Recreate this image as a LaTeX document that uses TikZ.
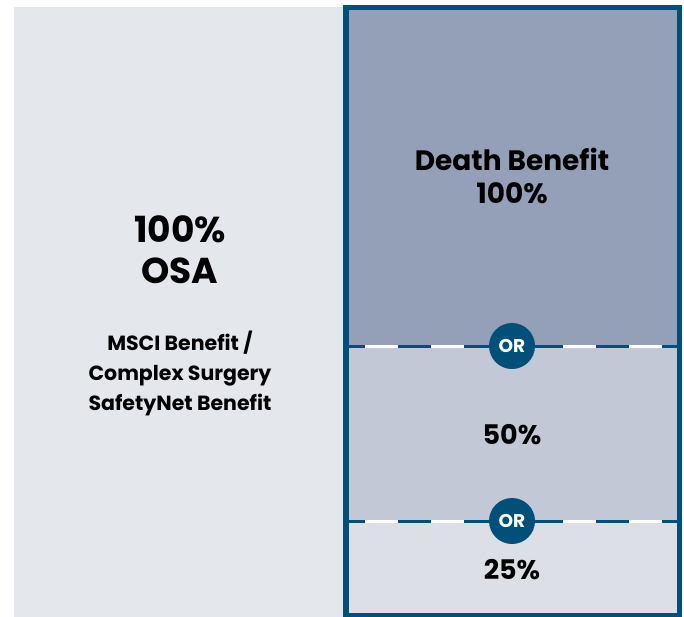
\documentclass[tikz,border=0pt]{standalone}
\usepackage{fontspec}
\setmainfont{Poppins}
\definecolor{panelL}{HTML}{E4E7EC}
\definecolor{topC}{HTML}{94A0B8}
\definecolor{midC}{HTML}{C2C8D5}
\definecolor{botC}{HTML}{DCDFE6}
\definecolor{navy}{HTML}{00507A}
\begin{document}
\begin{tikzpicture}[x=1pt,y=-1pt,
  lbl/.style={text=black, align=center, inner sep=0pt},
  orbadge/.style={circle, fill=navy, minimum size=46pt, inner sep=0pt, text=white, font=\bfseries\fontsize{18.5}{18.5}\selectfont},
  divider/.style={line width=3pt}]
\useasboundingbox (0,0) rectangle (684,616);
\begin{scope}
\clip (0,0) rectangle (684,616);
% left panel
\fill[panelL] (14,7) rectangle (346,620);
% right sections
\fill[topC] (346,7.5) rectangle (679.5,346);
\fill[midC] (346,346) rectangle (679.5,521);
\fill[botC] (346,521) rectangle (679.5,620);
% dividers
\coordinate (d1l) at (349,346); \coordinate (d1r) at (677,346);
\coordinate (d2l) at (349,521); \coordinate (d2r) at (677,521);
\draw[divider, white] (d1l) -- (d1r);
\draw[divider, navy, dash pattern=on 33pt off 33pt, dash phase=17pt] (d1l) -- (d1r);
\draw[divider, white] (d2l) -- (d2r);
\draw[divider, navy, dash pattern=on 33pt off 33pt, dash phase=17pt] (d2l) -- (d2r);
% border
\draw[navy, line width=5.5pt] (346,7.5) rectangle (679.5,615.5);
\end{scope}
\node[orbadge] (or1) at (512,346) {OR};
\node[orbadge] (or2) at (512,521) {OR};
% texts
\node[lbl, font=\bfseries\fontsize{28}{33}\selectfont] (death) at (512,176) {Death Benefit\\100\%};
\node[lbl, font=\bfseries\fontsize{27}{27}\selectfont] (p50) at (512,435) {50\%};
\node[lbl, font=\bfseries\fontsize{27}{27}\selectfont] (p25) at (512,570) {25\%};
\node[lbl, font=\bfseries\fontsize{36}{41}\selectfont] (osa) at (180,250) {100\%\\OSA};
\node[lbl, font=\bfseries\fontsize{20.5}{30}\selectfont] (msci) at (180,373) {MSCI Benefit /\\Complex Surgery\\SafetyNet Benefit};
\end{tikzpicture}
\end{document}
